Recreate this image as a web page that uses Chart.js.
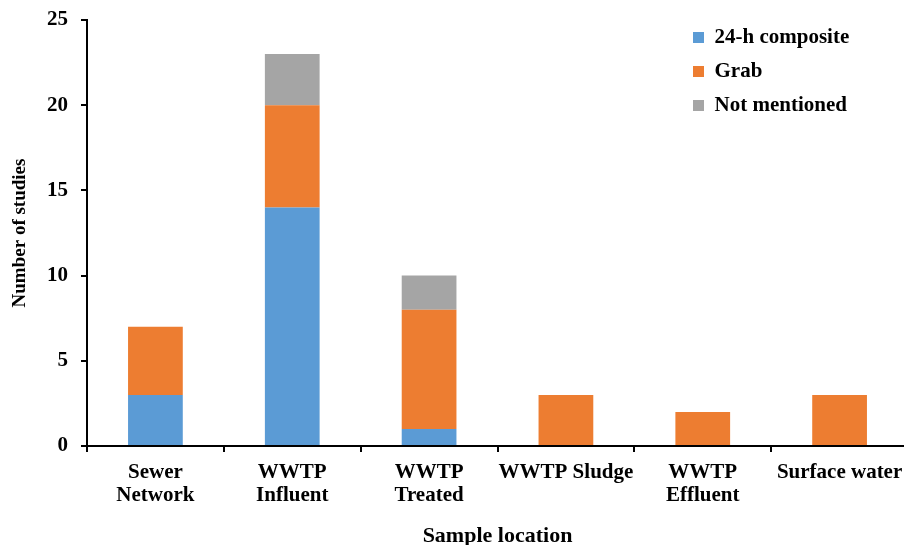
<!DOCTYPE html>
<html>
<head>
<meta charset="utf-8">
<script src="https://cdn.jsdelivr.net/npm/chart.js@4/dist/chart.umd.min.js"></script>
<style>
  html, body { margin: 0; padding: 0; background: #fff; overflow: hidden; }
  #wrap { width: 912px; height: 552px; }
</style>
</head>
<body>
<div id="wrap"><canvas id="samplingChart" width="912" height="552"></canvas></div>
<script>
// categories and series
const locations = [
  ['Sewer', 'Network'],
  ['WWTP', 'Influent'],
  ['WWTP', 'Treated'],
  'WWTP Sludge',
  ['WWTP', 'Effluent'],
  'Surface water'
];
const composite24h = [3, 14, 1, 0, 0, 0];
const grab = [4, 6, 7, 3, 2, 3];
const notMentioned = [0, 3, 2, 0, 0, 0];
const yTicks = [0, 5, 10, 15, 20, 25];

const serif = '"Liberation Serif", "Times New Roman", serif';

// legend sits inside the plot, top right
const legendSpot = {
  id: 'legendSpot',
  afterLayout(chart) {
    const lg = chart.legend;
    if (!lg) return;
    const w = lg.width, h = lg.height;
    lg.left = 680; lg.right = 680 + w;
    lg.top = 14; lg.bottom = 14 + h;
  }
};

const ctx = document.getElementById('samplingChart').getContext('2d');
new Chart(ctx, {
  type: 'bar',
  data: {
    labels: locations,
    datasets: [
      { label: '24-h composite', data: composite24h, backgroundColor: '#5B9BD5' },
      { label: 'Grab', data: grab, backgroundColor: '#ED7D31' },
      { label: 'Not mentioned', data: notMentioned, backgroundColor: '#A5A5A5' }
    ]
  },
  options: {
    responsive: false,
    animation: false,
    devicePixelRatio: 1,
    layout: { padding: { top: 20, right: 4, bottom: 0, left: 0 } },
    datasets: { bar: { barPercentage: 0.4, categoryPercentage: 1 } },
    plugins: {
      tooltip: { enabled: false },
      legend: {
        position: 'chartArea',
        align: 'start',
        labels: {
          boxWidth: 11,
          boxHeight: 11,
          padding: 13,
          color: '#000',
          font: { family: serif, size: 21, weight: 'bold' }
        }
      }
    },
    scales: {
      x: {
        stacked: true,
        afterFit(s) { s.height = 106; s.paddingLeft = 0; s.paddingRight = 0; },
        grid: { offset: true, drawOnChartArea: false, drawTicks: true, tickLength: 6, color: '#000', lineWidth: 2 },
        border: { display: true, color: '#000', width: 2 },
        ticks: {
          color: '#000',
          maxRotation: 0,
          autoSkip: false,
          padding: 9,
          font: { family: serif, size: 21, weight: 'bold', lineHeight: 1.1 }
        },
        title: {
          display: true,
          text: 'Sample location',
          color: '#000',
          padding: { top: 0, bottom: 2 },
          font: { family: serif, size: 22, weight: 'bold' }
        }
      },
      y: {
        stacked: true,
        min: 0,
        max: 25,
        afterFit(s) { s.width = 87; s.paddingTop = 0; s.paddingBottom = 0; },
        afterBuildTicks(s) { s.ticks = yTicks.map(v => ({ value: v })); },
        grid: { drawOnChartArea: false, drawTicks: true, tickLength: 6, color: '#000', lineWidth: 2 },
        border: { display: true, color: '#000', width: 2 },
        ticks: {
          color: '#000',
          padding: 13,
          font: { family: serif, size: 21, weight: 'bold' }
        },
        title: {
          display: true,
          text: 'Number of studies',
          color: '#000',
          padding: { top: 9, bottom: 0 },
          font: { family: serif, size: 19, weight: 'bold' }
        }
      }
    }
  },
  plugins: [legendSpot]
});
</script>
</body>
</html>
